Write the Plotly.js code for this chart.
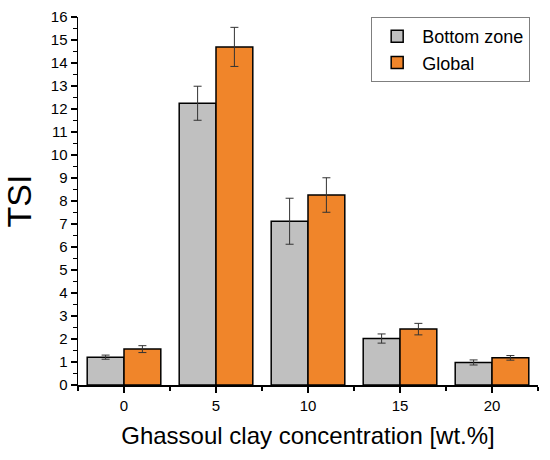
<!DOCTYPE html>
<html>
<head>
<meta charset="utf-8">
<script src="https://cdn.plot.ly/plotly-3.0.1.min.js"></script>
<style>html,body{margin:0;padding:0;background:#fff;}#chart{width:550px;height:460px;}</style>
</head>
<body>
<div id="chart"></div>
<script>
const categories = ['0', '5', '10', '15', '20'];
const bottomZone = [1.21, 12.25, 7.12, 2.02, 0.98];
const bottomErr = [0.09, 0.74, 1.0, 0.2, 0.11];
const globalVals = [1.56, 14.7, 8.26, 2.43, 1.18];
const globalErr = [0.15, 0.85, 0.75, 0.25, 0.1];
const yTicks = [0, 1, 2, 3, 4, 5, 6, 7, 8, 9, 10, 11, 12, 13, 14, 15, 16];

const xPos = categories.map((c, i) => i);
const font = 'Liberation Sans, Arial, sans-serif';

const errStyle = {type: 'data', visible: true, color: '#333333', thickness: 1, width: 4};

const traces = [
  {
    type: 'bar', name: 'Bottom zone', x: xPos, y: bottomZone,
    marker: {color: '#c0c0c0', line: {color: '#000000', width: 1.5}},
    error_y: Object.assign({array: bottomErr}, errStyle)
  },
  {
    type: 'bar', name: 'Global', x: xPos, y: globalVals,
    marker: {color: '#f0852a', line: {color: '#000000', width: 1.5}},
    error_y: Object.assign({array: globalErr}, errStyle)
  }
];

const layout = {
  width: 550, height: 460,
  margin: {l: 78, r: 12, t: 17, b: 75},
  paper_bgcolor: '#ffffff', plot_bgcolor: '#ffffff',
  barmode: 'group', bargap: 0.2, bargroupgap: 0,
  font: {family: font, color: '#000000', size: 15},
  showlegend: true,
  legend: {
    x: 0.983, xanchor: 'right', y: 1, yanchor: 'top',
    bordercolor: '#7f7f7f', borderwidth: 1, bgcolor: '#ffffff',
    font: {family: font, size: 18, color: '#000000'},
    traceorder: 'normal', itemwidth: 40, tracegroupgap: 0
  },
  xaxis: {
    range: [-0.5, 4.5], tickvals: xPos, ticktext: categories,
    showline: true, linecolor: '#000000', linewidth: 1.5,
    ticks: 'outside', ticklen: 6, tickwidth: 1.5, tickcolor: '#000000',
    showgrid: false, zeroline: false,
    tickfont: {family: font, size: 15},
    minor: {tickvals: [-0.5, 0.5, 1.5, 2.5, 3.5, 4.5], ticks: 'outside', ticklen: 4, tickwidth: 1.5, tickcolor: '#000000', showgrid: false},
    title: {text: 'Ghassoul clay concentration [wt.%]', font: {family: font, size: 24}, standoff: 14}
  },
  yaxis: {
    range: [0, 16], tickvals: yTicks,
    showline: true, linecolor: '#000000', linewidth: 1.5,
    ticks: 'outside', ticklen: 6, tickwidth: 1.5, tickcolor: '#000000',
    showgrid: false, zeroline: false,
    tickfont: {family: font, size: 15},
    minor: {dtick: 0.5, tick0: 0, ticks: 'outside', ticklen: 4, tickwidth: 1.5, tickcolor: '#000000', showgrid: false},
    title: {text: 'TSI', font: {family: font, size: 34}, standoff: 10}
  }
};

Plotly.newPlot('chart', traces, layout, {displayModeBar: false, staticPlot: true});
</script>
</body>
</html>
